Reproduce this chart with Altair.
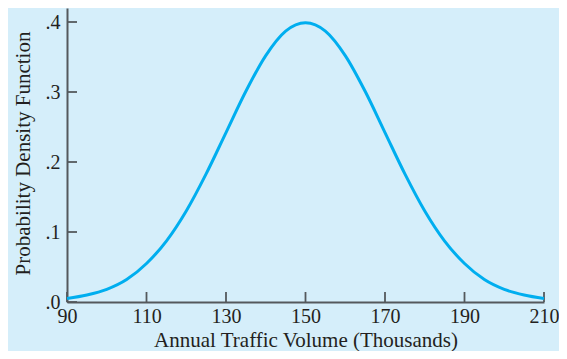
import altair as alt
import pandas as pd

# Values
volume = [90, 95, 100, 105, 110, 115, 120, 125, 130, 135, 140, 145, 150,
          155, 160, 165, 170, 175, 180, 185, 190, 195, 200, 205, 210]
density = [0.005, 0.010, 0.018, 0.032, 0.055, 0.087, 0.130, 0.183, 0.242, 0.301, 0.352, 0.387, 0.399,
           0.387, 0.352, 0.301, 0.242, 0.183, 0.130, 0.087, 0.055, 0.032, 0.018, 0.010, 0.005]
x_ticks = [90, 110, 130, 150, 170, 190, 210]
y_ticks = [0.0, 0.1, 0.2, 0.3, 0.4]

W, H = 477, 294
BG = "#d5eefa"
CURVE = "#00aeef"
AXIS = "#54585c"
TEXT = "#231f20"
FONT = "Liberation Serif"

curve_df = pd.DataFrame({"v": volume, "d": density})
xt_df = pd.DataFrame({"v": x_ticks})
yt_df = pd.DataFrame({"d": y_ticks})

xscale = alt.Scale(domain=[90, 210], nice=False, zero=False)
yscale = alt.Scale(domain=[0, 0.42], nice=False)

curve = alt.Chart(curve_df).mark_line(
    color=CURVE, strokeWidth=3, interpolate="monotone"
).encode(
    x=alt.X("v:Q", scale=xscale,
            axis=alt.Axis(values=x_ticks, ticks=False, grid=False,
                          domainColor=AXIS, domainWidth=2,
                          labelFont=FONT, labelFontSize=20, labelColor=TEXT,
                          labelPadding=4, labelFlush=False,
                          title="Annual Traffic Volume (Thousands)",
                          titleFont=FONT, titleFontSize=21, titleFontWeight="normal",
                          titleColor=TEXT, titleBaseline="alphabetic", titleY=44)),
    y=alt.Y("d:Q", scale=yscale,
            axis=alt.Axis(values=y_ticks, ticks=False, grid=False,
                          domainColor=AXIS, domainWidth=2,
                          labelFont=FONT, labelFontSize=20, labelColor=TEXT,
                          labelPadding=7, labelFlush=False,
                          labelExpr="replace(format(datum.value, '.1f'), '0.', '.')",
                          title="Probability Density Function",
                          titleFont=FONT, titleFontSize=21, titleFontWeight="normal",
                          titleColor=TEXT, titleBaseline="alphabetic",
                          titleX=-38, titleY=145)),
)

xticks = alt.Chart(xt_df).mark_rule(color=AXIS, strokeWidth=1.8).encode(
    x=alt.X("v:Q", scale=xscale),
    y=alt.value(H),
    y2=alt.value(H - 10),
)

yticks = alt.Chart(yt_df).mark_rule(color=AXIS, strokeWidth=1.8).encode(
    y=alt.Y("d:Q", scale=yscale),
    x=alt.value(0),
    x2=alt.value(10),
)

chart = alt.layer(xticks, yticks, curve).properties(
    width=W, height=H,
    background=BG,
    autosize=alt.AutoSizeParams(type="none"),
    padding={"left": 59, "top": 0, "right": 15, "bottom": 49},
).configure_view(stroke=None)

chart.save("out.html", embed_options={"renderer": "svg", "actions": False})
